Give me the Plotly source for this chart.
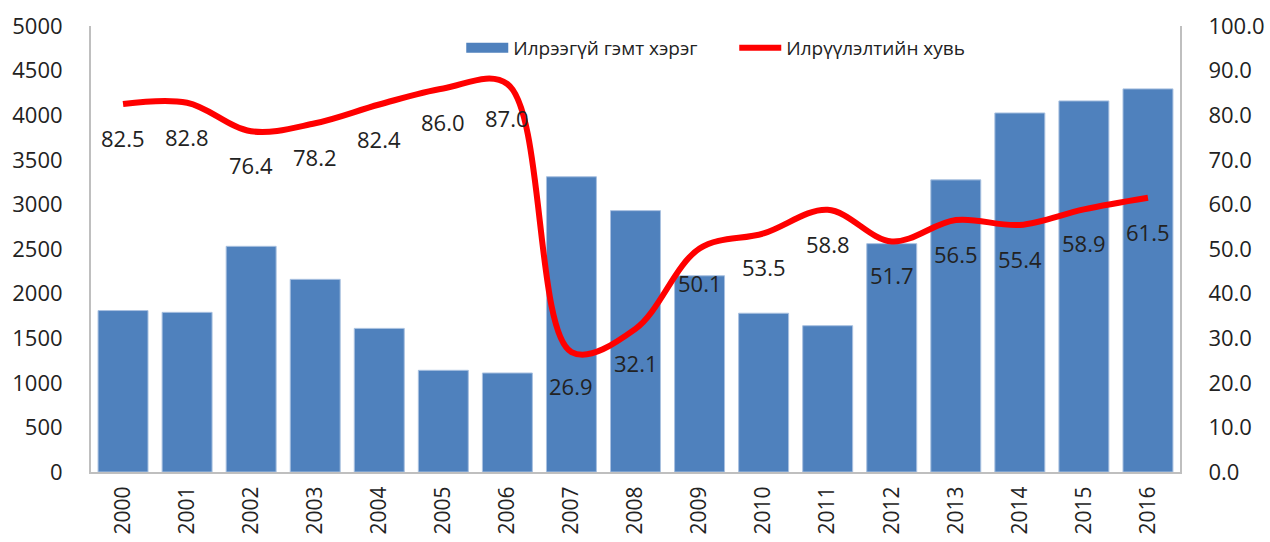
import plotly.graph_objects as go

years = [str(y) for y in range(2000, 2017)]
undetected = [1810, 1790, 2530, 2160, 1610, 1140, 1110, 3310, 2930, 2200,
              1780, 1640, 2560, 3275, 4025, 4160, 4295]
detection_rate = [82.5, 82.8, 76.4, 78.2, 82.4, 86.0, 87.0, 26.9, 32.1, 50.1,
                  53.5, 58.8, 51.7, 56.5, 55.4, 58.9, 61.5]
bar_name = "Илрээгүй гэмт хэрэг"
line_name = "Илрүүлэлтийн хувь"
left_ticks = list(range(0, 5001, 500))
right_ticks = list(range(0, 101, 10))

FONT = "Open Sans"
TXT = "#222222"
BAR_COLOR = "#4F81BD"

fig = go.Figure()
fig.add_trace(go.Bar(
    x=years, y=undetected, name=bar_name, showlegend=False,
    marker=dict(color=BAR_COLOR, line=dict(color="#A9C1E0", width=1)),
    yaxis="y",
))
# legend entry for the bars (wide block swatch)
fig.add_trace(go.Scatter(
    x=[None], y=[None], name=bar_name, mode="lines",
    line=dict(color=BAR_COLOR, width=19), yaxis="y",
))
fig.add_trace(go.Scatter(
    x=years, y=detection_rate, name=line_name, mode="lines",
    line=dict(color="#FF0000", width=6, shape="spline", smoothing=1.0),
    yaxis="y2",
))

for i, v in enumerate(detection_rate):
    fig.add_annotation(
        x=i, y=v, xref="x", yref="y2", text=f"{v:.1f}", showarrow=False,
        yshift=-34, font=dict(family=FONT, size=22, color=TXT),
    )

fig.update_layout(
    width=1270, height=542,
    margin=dict(l=91, r=90, t=26, b=70, autoexpand=False),
    plot_bgcolor="white", paper_bgcolor="white",
    bargap=0.22,
    font=dict(family=FONT, size=22, color=TXT),
    xaxis=dict(
        type="category", categoryorder="array", categoryarray=years,
        range=[-0.5, len(years) - 0.5], automargin=False,
        tickangle=-90, showgrid=False,
        showline=True, linecolor="#BFBFBF", linewidth=2,
        ticks="", tickfont=dict(size=21), ticklabelstandoff=4,
    ),
    yaxis=dict(
        range=[0, 5000], tickvals=left_ticks, showgrid=False, automargin=False,
        showline=True, linecolor="#BFBFBF", linewidth=2,
        ticks="", tickfont=dict(size=22), zeroline=False,
        ticklabelstandoff=22,
    ),
    yaxis2=dict(
        range=[0, 100], tickvals=right_ticks, tickformat=".1f", automargin=False,
        overlaying="y", side="right", showgrid=False,
        showline=True, linecolor="#BFBFBF", linewidth=2,
        ticks="", tickfont=dict(size=22), zeroline=False,
        ticklabelstandoff=22,
    ),
    legend=dict(
        orientation="h", x=0.340, xanchor="left", y=0.951, yanchor="middle",
        font=dict(size=19), entrywidth=216, itemwidth=42,
        bgcolor="rgba(0,0,0,0)",
    ),
    showlegend=True,
)

fig.write_html(
    "out.html",
    config={"displayModeBar": False},
    post_script="document.body.style.margin='0';document.body.style.overflow='hidden';",
)
